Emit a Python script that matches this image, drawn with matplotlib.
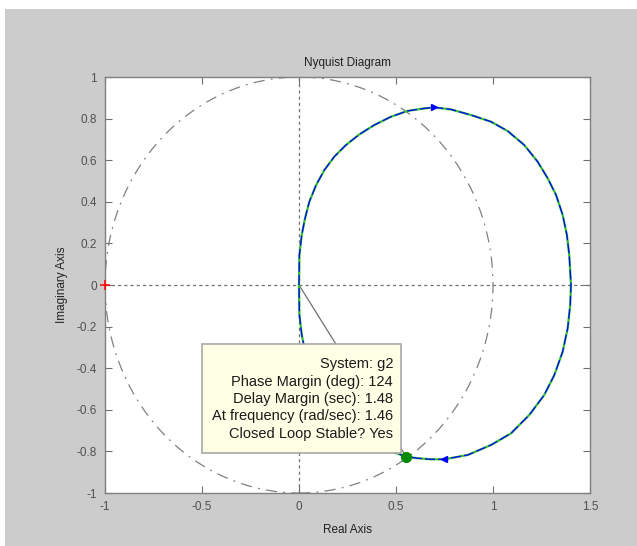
import matplotlib
matplotlib.use('Agg')
import matplotlib.pyplot as plt
from matplotlib.patches import Rectangle, Circle

plt.rcParams.update({
    'font.family': ['Liberation Sans', 'DejaVu Sans'], 'font.size': 8,
})

# Nyquist curve of g2 (real, imaginary)
re_vals = [0.0, 0.002, 0.014, 0.031, 0.053, 0.088, 0.131, 0.182, 0.242, 0.311,
           0.388, 0.474, 0.560, 0.646, 0.698, 0.784, 0.887, 0.990, 1.076, 1.161,
           1.230, 1.282, 1.325, 1.359, 1.381, 1.393, 1.402, 1.398, 1.385, 1.359,
           1.316, 1.264, 1.187, 1.093, 0.990, 0.870, 0.749, 0.680, 0.612, 0.552,
           0.474, 0.388, 0.311, 0.242, 0.182, 0.131, 0.088, 0.053, 0.031, 0.014,
           0.002, 0.0]
im_vals = [0.0, 0.144, 0.240, 0.320, 0.400, 0.480, 0.553, 0.617, 0.673, 0.724,
           0.769, 0.809, 0.837, 0.849, 0.854, 0.844, 0.817, 0.785, 0.740, 0.673,
           0.593, 0.513, 0.433, 0.337, 0.240, 0.144, 0.0, -0.096, -0.208, -0.321,
           -0.433, -0.529, -0.625, -0.713, -0.769, -0.817, -0.838, -0.838, -0.833, -0.825,
           -0.800, -0.760, -0.715, -0.665, -0.610, -0.548, -0.475, -0.397, -0.318, -0.238,
           -0.143, 0.0]
arrow_up_idx = 14    # direction arrow on upper half
arrow_low_idx = 36   # direction arrow on lower half
pm_idx = 39          # phase margin crossing point

x_ticks = [-1, -0.5, 0, 0.5, 1, 1.5]
y_ticks = [-1, -0.8, -0.6, -0.4, -0.2, 0, 0.2, 0.4, 0.6, 0.8, 1]
x_ticklabels = ['-1', '-0.5', '0', '0.5', '1', '1.5']
y_ticklabels = ['-1', '-0.8', '-0.6', '-0.4', '-0.2', '0', '0.2', '0.4', '0.6', '0.8', '1']

tip_lines = ['System: g2', 'Phase Margin (deg): 124', 'Delay Margin (sec): 1.48',
             'At frequency (rad/sec): 1.46', 'Closed Loop Stable? Yes']

fig = plt.figure(figsize=(6.37, 5.46), dpi=100, facecolor='white')
fig.patches.append(Rectangle((5 / 637, 0), 1, 1 - 9 / 546, transform=fig.transFigure,
                             facecolor='#cccccc', edgecolor='none', zorder=-10))
ax = fig.add_axes([105 / 637, 53 / 546, 485 / 637, 416 / 546])
ax.set_facecolor('white')

# grid lines through origin and unit circle
ax.axhline(0, color='#707070', linestyle=(0, (2.5, 2.5)), linewidth=0.9, zorder=1)
ax.axvline(0, color='#707070', linestyle=(0, (2.5, 2.5)), linewidth=0.9, zorder=1)
ax.add_patch(Circle((0, 0), 1, fill=False, edgecolor='#808080', linewidth=0.9,
                    linestyle=(0, (9, 5, 1.5, 5)), zorder=1))
ax.plot(-1, 0, marker='+', color='red', markersize=7, markeredgewidth=1.1,
        zorder=8, clip_on=False)

# phase margin line
ax.plot([0, re_vals[pm_idx]], [0, im_vals[pm_idx]], color='#707070', linewidth=0.9, zorder=2)

# curves
ax.plot(re_vals, im_vals, color='#33c033', linewidth=1.6, zorder=3)
ax.plot(re_vals, im_vals, color='#0000ff', linewidth=0.9, linestyle=(0, (8, 2.5)), zorder=4)
ax.plot(re_vals[arrow_up_idx], im_vals[arrow_up_idx], marker='>', color='#0000ff',
        markersize=5, zorder=5)
ax.plot(re_vals[arrow_low_idx], im_vals[arrow_low_idx], marker='<', color='#0000ff',
        markersize=5, zorder=5)
ax.plot(re_vals[pm_idx], im_vals[pm_idx], marker='o', color='#008a00',
        markersize=7, zorder=7)

# data tip box
ax.add_patch(Rectangle((-0.5, -0.81), 1.026, 0.525, facecolor='#ffffe6',
                       edgecolor='#a8a8a8', linewidth=1.2, zorder=6))
ax.text(0.485, -0.548, '\n'.join(tip_lines), ha='right', va='center', fontsize=10.5,
        linespacing=1.3, color='#1a1a1a', zorder=7, multialignment='right')

ax.set_xlim(-1, 1.5)
ax.set_ylim(-1, 1)
ax.set_xticks(x_ticks)
ax.set_xticklabels(x_ticklabels)
ax.set_yticks(y_ticks)
ax.set_yticklabels(y_ticklabels)
ax.tick_params(direction='in', length=5, width=0.8, color='#707070', labelcolor='#505050',
               top=True, right=True, labelsize=8.5, pad=6)
for s in ax.spines.values():
    s.set_color('#808080')
    s.set_linewidth(1.0)

ax.set_title('Nyquist Diagram', fontsize=8.5, pad=8, color='#202020')
ax.set_xlabel('Real Axis', fontsize=8.5, labelpad=8, color='#202020')
ax.set_ylabel('Imaginary Axis', fontsize=8.5, labelpad=6, color='#202020')

fig.savefig('out.png', dpi=100, facecolor=fig.get_facecolor())
